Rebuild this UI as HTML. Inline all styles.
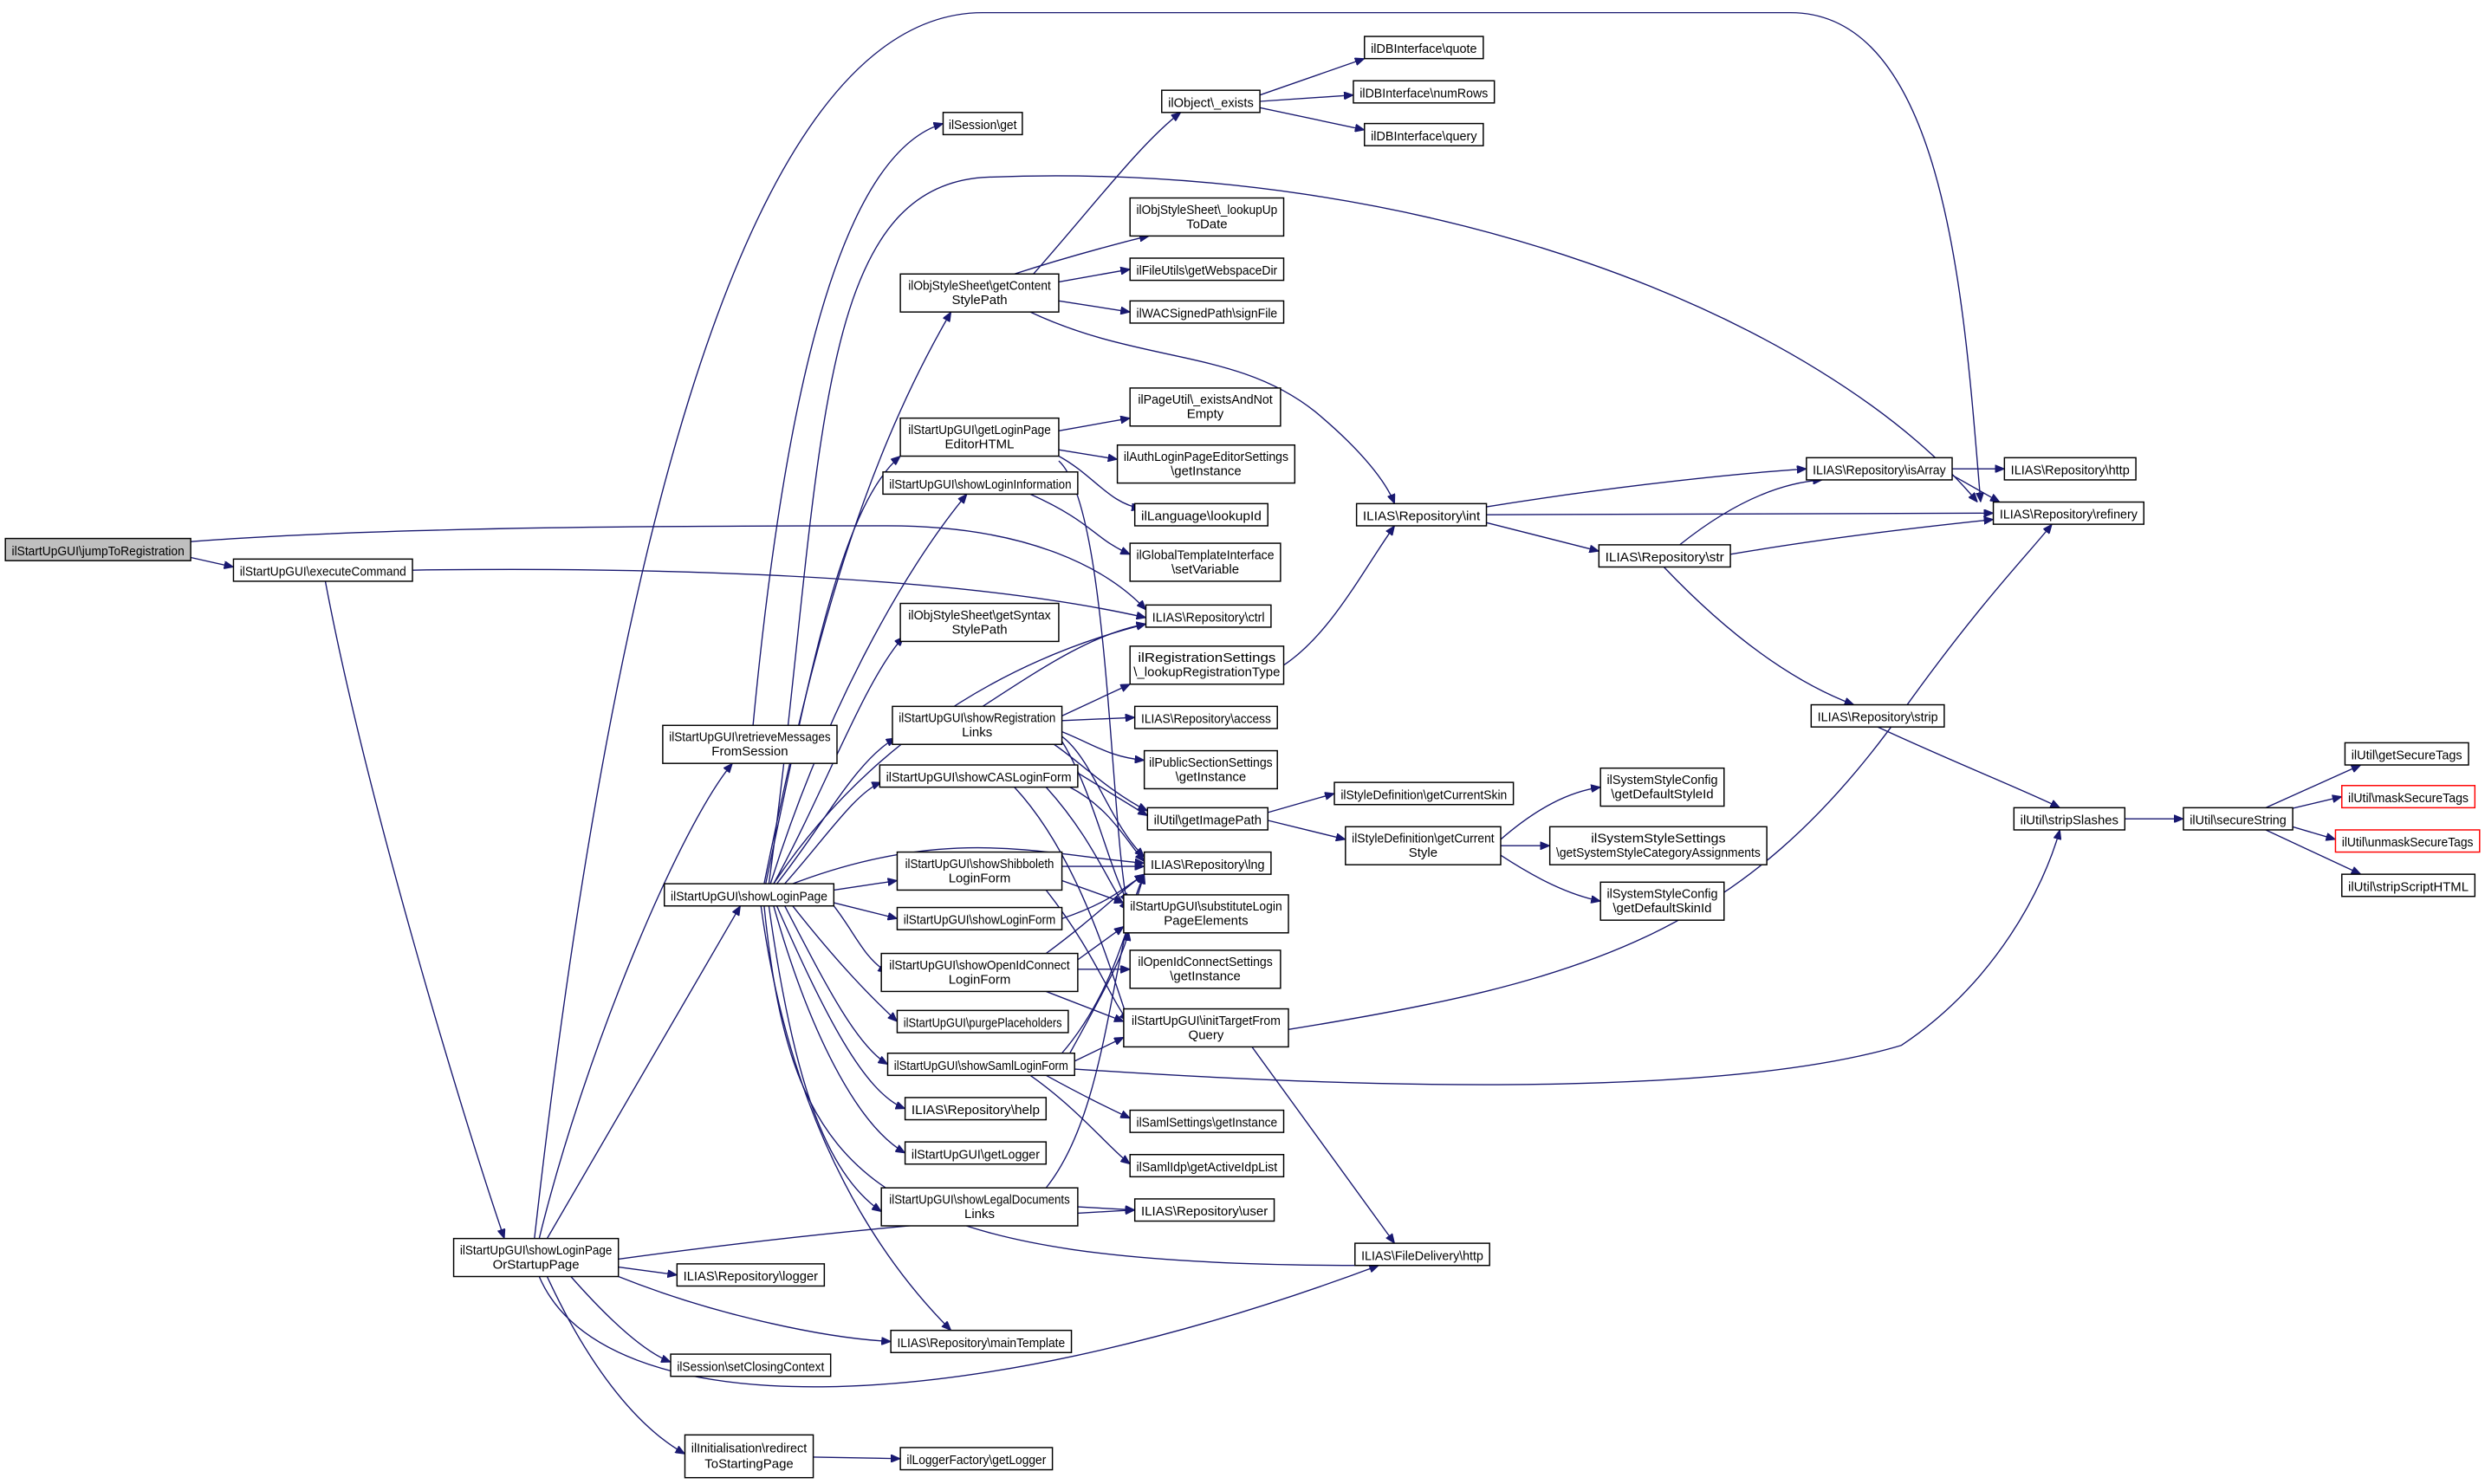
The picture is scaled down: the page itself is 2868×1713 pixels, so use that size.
<!DOCTYPE html>
<html><head><meta charset="utf-8"><style>
html,body{margin:0;padding:0;background:#fff}
svg{display:block}
text{font-family:"Liberation Sans",sans-serif;font-size:8.2px;fill:#000}
.b{fill:#fff;stroke:#000;stroke-width:0.8}
.r{fill:#fff;stroke:#ff0000;stroke-width:0.8}
.e{fill:none;stroke:#191970;stroke-width:0.75}
</style></head><body>
<svg width="2868" height="1713" viewBox="0 0 1568 937" xmlns="http://www.w3.org/2000/svg">
<defs><marker id="a" markerWidth="6" markerHeight="5" refX="6" refY="2.5" orient="auto" markerUnits="userSpaceOnUse"><path d="M0,0 L6,2.5 L0,5 z" fill="#191970" stroke="#191970" stroke-width="0.5"/></marker></defs>
<g marker-end="url(#a)">
<path class="e" d="M120,352 L147,358"/>
<path class="e" d="M120,342 C250,332 450,332 560,332 C650,332 700,360 723,385"/>
<path class="e" d="M260,360 C400,358 600,362 723,390"/>
<path class="e" d="M205,367 C230,500 290,700 318,782"/>
<path class="e" d="M340,782 C370,660 430,520 462,482"/>
<path class="e" d="M345,782 L467,572"/>
<path class="e" d="M337,782 C380,400 460,8 620,8 L1130,8 C1230,8 1240,200 1250,317"/>
<path class="e" d="M390,800 L427,805"/>
<path class="e" d="M390,806 C450,830 520,845 562,847"/>
<path class="e" d="M360,806 C390,840 410,855 423,860"/>
<path class="e" d="M345,806 C370,860 400,900 432,918"/>
<path class="e" d="M340,806 C380,900 600,900 870,799"/>
<path class="e" d="M390,795 C500,780 600,770 716,764"/>
<path class="e" d="M475,458 C490,300 520,100 595,78"/>
<path class="e" d="M513,920 L568,921"/>
<path class="e" d="M485,558 C520,300 510,120 620,112 C900,100 1150,200 1248,317"/>
<path class="e" d="M482,558 C510,420 540,300 600,197"/>
<path class="e" d="M483,558 C510,430 530,320 568,288"/>
<path class="e" d="M486,558 C520,450 570,360 610,312"/>
<path class="e" d="M488,558 C540,480 620,420 723,394"/>
<path class="e" d="M488,558 C520,500 545,430 570,402"/>
<path class="e" d="M490,558 C520,520 540,480 565,466"/>
<path class="e" d="M495,558 C520,530 540,500 556,494"/>
<path class="e" d="M500,558 C600,520 660,540 722,545"/>
<path class="e" d="M526,562 L566,556"/>
<path class="e" d="M526,570 L566,580"/>
<path class="e" d="M526,572 C540,590 545,605 560,614"/>
<path class="e" d="M500,572 C530,610 550,630 566,645"/>
<path class="e" d="M495,572 C520,620 540,660 560,672"/>
<path class="e" d="M490,572 C520,640 545,690 571,700"/>
<path class="e" d="M488,572 C510,650 540,710 571,728"/>
<path class="e" d="M485,572 C500,680 520,740 556,765"/>
<path class="e" d="M482,572 C500,750 550,800 870,799"/>
<path class="e" d="M480,572 C500,720 560,800 600,840"/>
<path class="e" d="M652,173 C690,130 720,90 745,71"/>
<path class="e" d="M640,173 C680,160 720,150 725,149"/>
<path class="e" d="M668,178 L713,170"/>
<path class="e" d="M668,190 L713,197"/>
<path class="e" d="M650,197 C720,230 780,220 830,260 C860,285 875,305 880,318"/>
<path class="e" d="M795,60 L861,37"/>
<path class="e" d="M795,64 L854,60"/>
<path class="e" d="M795,68 L861,82"/>
<path class="e" d="M668,272 L713,264"/>
<path class="e" d="M668,284 L705,290"/>
<path class="e" d="M668,288 C690,300 700,318 720,321"/>
<path class="e" d="M668,291 C700,320 700,520 712,575"/>
<path class="e" d="M650,312 C690,330 690,340 713,350"/>
<path class="e" d="M620,446 C660,420 690,400 723,394"/>
<path class="e" d="M670,452 L713,432"/>
<path class="e" d="M670,455 L716,453"/>
<path class="e" d="M670,462 C690,470 700,478 722,480"/>
<path class="e" d="M670,465 C690,480 700,520 722,541"/>
<path class="e" d="M670,468 C690,500 700,550 712,570"/>
<path class="e" d="M665,470 C680,480 700,500 724,512"/>
<path class="e" d="M680,488 L724,515"/>
<path class="e" d="M675,497 C700,510 710,530 722,544"/>
<path class="e" d="M660,497 C690,530 700,560 712,575"/>
<path class="e" d="M640,497 C680,540 700,610 712,645"/>
<path class="e" d="M670,547 L722,547"/>
<path class="e" d="M670,556 L709,570"/>
<path class="e" d="M660,562 C690,600 700,630 712,645"/>
<path class="e" d="M670,580 C700,570 710,560 722,552"/>
<path class="e" d="M660,602 C690,580 710,560 722,552"/>
<path class="e" d="M680,606 L709,585"/>
<path class="e" d="M680,612 L713,612"/>
<path class="e" d="M660,626 L709,645"/>
<path class="e" d="M670,665 C700,630 710,590 722,552"/>
<path class="e" d="M675,665 C700,620 710,600 712,588"/>
<path class="e" d="M678,670 L709,655"/>
<path class="e" d="M660,679 C680,690 700,700 713,706"/>
<path class="e" d="M650,679 C680,700 700,725 713,735"/>
<path class="e" d="M678,675 C900,690 1100,690 1200,660 C1260,620 1290,560 1300,524"/>
<path class="e" d="M680,762 L716,764"/>
<path class="e" d="M660,750 C700,700 700,600 722,552"/>
<path class="e" d="M810,420 C840,400 860,360 880,332"/>
<path class="e" d="M800,513 L842,501"/>
<path class="e" d="M800,518 L849,530"/>
<path class="e" d="M947,530 C970,510 990,500 1010,497"/>
<path class="e" d="M947,534 L978,534"/>
<path class="e" d="M947,540 C970,555 990,565 1010,569"/>
<path class="e" d="M813,650 C1000,620 1100,590 1200,450 C1250,380 1280,350 1295,331"/>
<path class="e" d="M790,661 L880,785"/>
<path class="e" d="M938,320 C1000,310 1080,300 1140,296"/>
<path class="e" d="M938,325 L1258,324"/>
<path class="e" d="M938,330 L1009,348"/>
<path class="e" d="M1232,296 L1265,296"/>
<path class="e" d="M1232,300 L1262,317"/>
<path class="e" d="M1060,344 C1090,320 1120,305 1150,303"/>
<path class="e" d="M1092,350 C1150,340 1210,333 1258,328"/>
<path class="e" d="M1050,358 C1090,400 1130,430 1170,445"/>
<path class="e" d="M1185,459 C1230,480 1280,500 1300,510"/>
<path class="e" d="M1341,517 L1378,517"/>
<path class="e" d="M1430,510 L1490,483"/>
<path class="e" d="M1440,512 L1478,503"/>
<path class="e" d="M1440,520 L1474,530"/>
<path class="e" d="M1430,524 L1490,552"/>
</g>
<g>
<rect x="3" y="340" width="117" height="14" fill="#bfbfbf" stroke="#000" stroke-width="0.8"/><text x="61.5" y="350.5" text-anchor="middle" textLength="109" lengthAdjust="spacingAndGlyphs">ilStartUpGUI\jumpToRegistration</text>
<rect class="b" x="147" y="353" width="113" height="14"/><text x="203.5" y="363.5" text-anchor="middle" textLength="105" lengthAdjust="spacingAndGlyphs">ilStartUpGUI\executeCommand</text>
<rect class="b" x="286" y="782" width="104" height="24"/><text x="338" y="792" text-anchor="middle" textLength="96" lengthAdjust="spacingAndGlyphs">ilStartUpGUI\showLoginPage</text><text x="338" y="801" text-anchor="middle">OrStartupPage</text>
<rect class="b" x="418" y="458" width="110" height="24"/><text x="473" y="468" text-anchor="middle" textLength="102" lengthAdjust="spacingAndGlyphs">ilStartUpGUI\retrieveMessages</text><text x="473" y="477" text-anchor="middle">FromSession</text>
<rect class="b" x="419" y="558" width="107" height="14"/><text x="472.5" y="568.5" text-anchor="middle" textLength="99" lengthAdjust="spacingAndGlyphs">ilStartUpGUI\showLoginPage</text>
<rect class="b" x="595" y="71" width="50" height="14"/><text x="620" y="81.5" text-anchor="middle" textLength="43" lengthAdjust="spacingAndGlyphs">ilSession\get</text>
<rect class="b" x="733" y="57" width="62" height="14"/><text x="764" y="67.5" text-anchor="middle" textLength="54" lengthAdjust="spacingAndGlyphs">ilObject\_exists</text>
<rect class="b" x="861" y="23" width="75" height="14"/><text x="898.5" y="33.5" text-anchor="middle" textLength="67" lengthAdjust="spacingAndGlyphs">ilDBInterface\quote</text>
<rect class="b" x="854" y="51" width="89" height="14"/><text x="898.5" y="61.5" text-anchor="middle" textLength="81" lengthAdjust="spacingAndGlyphs">ilDBInterface\numRows</text>
<rect class="b" x="861" y="78" width="75" height="14"/><text x="898.5" y="88.5" text-anchor="middle" textLength="67" lengthAdjust="spacingAndGlyphs">ilDBInterface\query</text>
<rect class="b" x="713" y="125" width="97" height="24"/><text x="761.5" y="135" text-anchor="middle" textLength="89" lengthAdjust="spacingAndGlyphs">ilObjStyleSheet\_lookupUp</text><text x="761.5" y="144" text-anchor="middle">ToDate</text>
<rect class="b" x="568" y="173" width="100" height="24"/><text x="618" y="183" text-anchor="middle" textLength="90" lengthAdjust="spacingAndGlyphs">ilObjStyleSheet\getContent</text><text x="618" y="192" text-anchor="middle">StylePath</text>
<rect class="b" x="713" y="163" width="97" height="14"/><text x="761.5" y="173.5" text-anchor="middle" textLength="89" lengthAdjust="spacingAndGlyphs">ilFileUtils\getWebspaceDir</text>
<rect class="b" x="713" y="190" width="97" height="14"/><text x="761.5" y="200.5" text-anchor="middle" textLength="89" lengthAdjust="spacingAndGlyphs">ilWACSignedPath\signFile</text>
<rect class="b" x="568" y="264" width="100" height="24"/><text x="618" y="274" text-anchor="middle" textLength="90" lengthAdjust="spacingAndGlyphs">ilStartUpGUI\getLoginPage</text><text x="618" y="283" text-anchor="middle">EditorHTML</text>
<rect class="b" x="713" y="245" width="95" height="24"/><text x="760.5" y="255" text-anchor="middle" textLength="85" lengthAdjust="spacingAndGlyphs">ilPageUtil\_existsAndNot</text><text x="760.5" y="264" text-anchor="middle">Empty</text>
<rect class="b" x="705" y="281" width="112" height="24"/><text x="761" y="291" text-anchor="middle" textLength="104" lengthAdjust="spacingAndGlyphs">ilAuthLoginPageEditorSettings</text><text x="761" y="300" text-anchor="middle">\getInstance</text>
<rect class="b" x="716" y="318" width="84" height="14"/><text x="758" y="328.5" text-anchor="middle" textLength="76" lengthAdjust="spacingAndGlyphs">ilLanguage\lookupId</text>
<rect class="b" x="557" y="298" width="123" height="14"/><text x="618.5" y="308.5" text-anchor="middle" textLength="115" lengthAdjust="spacingAndGlyphs">ilStartUpGUI\showLoginInformation</text>
<rect class="b" x="713" y="343" width="95" height="24"/><text x="760.5" y="353" text-anchor="middle" textLength="87" lengthAdjust="spacingAndGlyphs">ilGlobalTemplateInterface</text><text x="760.5" y="362" text-anchor="middle">\setVariable</text>
<rect class="b" x="723" y="382" width="79" height="14"/><text x="762.5" y="392.5" text-anchor="middle" textLength="71" lengthAdjust="spacingAndGlyphs">ILIAS\Repository\ctrl</text>
<rect class="b" x="568" y="381" width="100" height="24"/><text x="618" y="391" text-anchor="middle" textLength="90" lengthAdjust="spacingAndGlyphs">ilObjStyleSheet\getSyntax</text><text x="618" y="400" text-anchor="middle">StylePath</text>
<rect class="b" x="713" y="408" width="97" height="24"/><text x="761.5" y="418" text-anchor="middle" textLength="87" lengthAdjust="spacingAndGlyphs">ilRegistrationSettings</text><text x="761.5" y="427" text-anchor="middle">\_lookupRegistrationType</text>
<rect class="b" x="563" y="446" width="107" height="24"/><text x="616.5" y="456" text-anchor="middle" textLength="99" lengthAdjust="spacingAndGlyphs">ilStartUpGUI\showRegistration</text><text x="616.5" y="465" text-anchor="middle">Links</text>
<rect class="b" x="716" y="446" width="90" height="14"/><text x="761" y="456.5" text-anchor="middle" textLength="82" lengthAdjust="spacingAndGlyphs">ILIAS\Repository\access</text>
<rect class="b" x="722" y="474" width="84" height="24"/><text x="764" y="484" text-anchor="middle" textLength="78" lengthAdjust="spacingAndGlyphs">ilPublicSectionSettings</text><text x="764" y="493" text-anchor="middle">\getInstance</text>
<rect class="b" x="555" y="483" width="125" height="14"/><text x="617.5" y="493.5" text-anchor="middle" textLength="117" lengthAdjust="spacingAndGlyphs">ilStartUpGUI\showCASLoginForm</text>
<rect class="b" x="724" y="510" width="76" height="14"/><text x="762" y="520.5" text-anchor="middle" textLength="68" lengthAdjust="spacingAndGlyphs">ilUtil\getImagePath</text>
<rect class="b" x="722" y="538" width="80" height="14"/><text x="762" y="548.5" text-anchor="middle" textLength="72" lengthAdjust="spacingAndGlyphs">ILIAS\Repository\lng</text>
<rect class="b" x="566" y="538" width="104" height="24"/><text x="618" y="548" text-anchor="middle" textLength="94" lengthAdjust="spacingAndGlyphs">ilStartUpGUI\showShibboleth</text><text x="618" y="557" text-anchor="middle">LoginForm</text>
<rect class="b" x="709" y="565" width="104" height="24"/><text x="761" y="575" text-anchor="middle" textLength="96" lengthAdjust="spacingAndGlyphs">ilStartUpGUI\substituteLogin</text><text x="761" y="584" text-anchor="middle">PageElements</text>
<rect class="b" x="566" y="573" width="104" height="14"/><text x="618" y="583.5" text-anchor="middle" textLength="96" lengthAdjust="spacingAndGlyphs">ilStartUpGUI\showLoginForm</text>
<rect class="b" x="713" y="600" width="95" height="24"/><text x="760.5" y="610" text-anchor="middle" textLength="85" lengthAdjust="spacingAndGlyphs">ilOpenIdConnectSettings</text><text x="760.5" y="619" text-anchor="middle">\getInstance</text>
<rect class="b" x="556" y="602" width="124" height="24"/><text x="618" y="612" text-anchor="middle" textLength="114" lengthAdjust="spacingAndGlyphs">ilStartUpGUI\showOpenIdConnect</text><text x="618" y="621" text-anchor="middle">LoginForm</text>
<rect class="b" x="566" y="638" width="108" height="14"/><text x="620" y="648.5" text-anchor="middle" textLength="100" lengthAdjust="spacingAndGlyphs">ilStartUpGUI\purgePlaceholders</text>
<rect class="b" x="709" y="637" width="104" height="24"/><text x="761" y="647" text-anchor="middle" textLength="94" lengthAdjust="spacingAndGlyphs">ilStartUpGUI\initTargetFrom</text><text x="761" y="656" text-anchor="middle">Query</text>
<rect class="b" x="560" y="665" width="118" height="14"/><text x="619" y="675.5" text-anchor="middle" textLength="110" lengthAdjust="spacingAndGlyphs">ilStartUpGUI\showSamlLoginForm</text>
<rect class="b" x="713" y="701" width="97" height="14"/><text x="761.5" y="711.5" text-anchor="middle" textLength="89" lengthAdjust="spacingAndGlyphs">ilSamlSettings\getInstance</text>
<rect class="b" x="571" y="693" width="89" height="14"/><text x="615.5" y="703.5" text-anchor="middle" textLength="81" lengthAdjust="spacingAndGlyphs">ILIAS\Repository\help</text>
<rect class="b" x="571" y="721" width="89" height="14"/><text x="615.5" y="731.5" text-anchor="middle" textLength="81" lengthAdjust="spacingAndGlyphs">ilStartUpGUI\getLogger</text>
<rect class="b" x="713" y="729" width="97" height="14"/><text x="761.5" y="739.5" text-anchor="middle" textLength="89" lengthAdjust="spacingAndGlyphs">ilSamlIdp\getActiveIdpList</text>
<rect class="b" x="556" y="750" width="124" height="24"/><text x="618" y="760" text-anchor="middle" textLength="114" lengthAdjust="spacingAndGlyphs">ilStartUpGUI\showLegalDocuments</text><text x="618" y="769" text-anchor="middle">Links</text>
<rect class="b" x="716" y="757" width="88" height="14"/><text x="760" y="767.5" text-anchor="middle" textLength="80" lengthAdjust="spacingAndGlyphs">ILIAS\Repository\user</text>
<rect class="b" x="855" y="785" width="85" height="14"/><text x="897.5" y="795.5" text-anchor="middle" textLength="77" lengthAdjust="spacingAndGlyphs">ILIAS\FileDelivery\http</text>
<rect class="b" x="427" y="798" width="93" height="14"/><text x="473.5" y="808.5" text-anchor="middle" textLength="85" lengthAdjust="spacingAndGlyphs">ILIAS\Repository\logger</text>
<rect class="b" x="562" y="840" width="114" height="14"/><text x="619" y="850.5" text-anchor="middle" textLength="106" lengthAdjust="spacingAndGlyphs">ILIAS\Repository\mainTemplate</text>
<rect class="b" x="423" y="855" width="101" height="14"/><text x="473.5" y="865.5" text-anchor="middle" textLength="93" lengthAdjust="spacingAndGlyphs">ilSession\setClosingContext</text>
<rect class="b" x="432" y="906" width="81" height="27"/><text x="472.5" y="917" text-anchor="middle" textLength="73" lengthAdjust="spacingAndGlyphs">ilInitialisation\redirect</text><text x="472.5" y="927" text-anchor="middle">ToStartingPage</text>
<rect class="b" x="568" y="914" width="96" height="14"/><text x="616" y="924.5" text-anchor="middle" textLength="88" lengthAdjust="spacingAndGlyphs">ilLoggerFactory\getLogger</text>
<rect class="b" x="856" y="318" width="82" height="14"/><text x="897" y="328.5" text-anchor="middle" textLength="74" lengthAdjust="spacingAndGlyphs">ILIAS\Repository\int</text>
<rect class="b" x="1140" y="289" width="92" height="14"/><text x="1186" y="299.5" text-anchor="middle" textLength="84" lengthAdjust="spacingAndGlyphs">ILIAS\Repository\isArray</text>
<rect class="b" x="1265" y="289" width="83" height="14"/><text x="1306.5" y="299.5" text-anchor="middle" textLength="75" lengthAdjust="spacingAndGlyphs">ILIAS\Repository\http</text>
<rect class="b" x="1258" y="317" width="95" height="14"/><text x="1305.5" y="327.5" text-anchor="middle" textLength="87" lengthAdjust="spacingAndGlyphs">ILIAS\Repository\refinery</text>
<rect class="b" x="1009" y="344" width="83" height="14"/><text x="1050.5" y="354.5" text-anchor="middle" textLength="75" lengthAdjust="spacingAndGlyphs">ILIAS\Repository\str</text>
<rect class="b" x="1143" y="445" width="84" height="14"/><text x="1185" y="455.5" text-anchor="middle" textLength="76" lengthAdjust="spacingAndGlyphs">ILIAS\Repository\strip</text>
<rect class="b" x="842" y="494" width="113" height="14"/><text x="898.5" y="504.5" text-anchor="middle" textLength="105" lengthAdjust="spacingAndGlyphs">ilStyleDefinition\getCurrentSkin</text>
<rect class="b" x="849" y="522" width="98" height="24"/><text x="898" y="532" text-anchor="middle" textLength="90" lengthAdjust="spacingAndGlyphs">ilStyleDefinition\getCurrent</text><text x="898" y="541" text-anchor="middle">Style</text>
<rect class="b" x="1010" y="485" width="78" height="24"/><text x="1049" y="495" text-anchor="middle" textLength="70" lengthAdjust="spacingAndGlyphs">ilSystemStyleConfig</text><text x="1049" y="504" text-anchor="middle">\getDefaultStyleId</text>
<rect class="b" x="978" y="522" width="137" height="24"/><text x="1046.5" y="532" text-anchor="middle" textLength="85" lengthAdjust="spacingAndGlyphs">ilSystemStyleSettings</text><text x="1046.5" y="541" text-anchor="middle" textLength="129" lengthAdjust="spacingAndGlyphs">\getSystemStyleCategoryAssignments</text>
<rect class="b" x="1010" y="557" width="78" height="24"/><text x="1049" y="567" text-anchor="middle" textLength="70" lengthAdjust="spacingAndGlyphs">ilSystemStyleConfig</text><text x="1049" y="576" text-anchor="middle">\getDefaultSkinId</text>
<rect class="b" x="1271" y="510" width="70" height="14"/><text x="1306" y="520.5" text-anchor="middle" textLength="62" lengthAdjust="spacingAndGlyphs">ilUtil\stripSlashes</text>
<rect class="b" x="1378" y="510" width="69" height="14"/><text x="1412.5" y="520.5" text-anchor="middle" textLength="61" lengthAdjust="spacingAndGlyphs">ilUtil\secureString</text>
<rect class="b" x="1480" y="469" width="78" height="14"/><text x="1519" y="479.5" text-anchor="middle" textLength="70" lengthAdjust="spacingAndGlyphs">ilUtil\getSecureTags</text>
<rect class="r" x="1478" y="496" width="84" height="14"/><text x="1520" y="506.5" text-anchor="middle" textLength="76" lengthAdjust="spacingAndGlyphs">ilUtil\maskSecureTags</text>
<rect class="r" x="1474" y="524" width="91" height="14"/><text x="1519.5" y="534.5" text-anchor="middle" textLength="83" lengthAdjust="spacingAndGlyphs">ilUtil\unmaskSecureTags</text>
<rect class="b" x="1478" y="552" width="84" height="14"/><text x="1520" y="562.5" text-anchor="middle" textLength="76" lengthAdjust="spacingAndGlyphs">ilUtil\stripScriptHTML</text>
</g>
</svg>
</body></html>
